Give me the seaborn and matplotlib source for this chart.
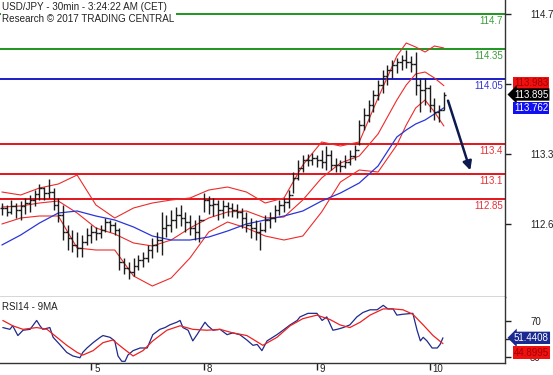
import numpy as np
import pandas as pd
import seaborn as sns
import matplotlib.pyplot as plt
from matplotlib.transforms import ScaledTranslation

# hourly OHLC bars (bar 0 = first bar on the left)
bar_high = [112.81, 112.79, 112.84, 112.81, 112.83, 112.86, 112.89, 112.94, 113.00, 112.97,
            113.05, 112.96, 112.86, 112.79, 112.59, 112.54, 112.52, 112.49, 112.56, 112.59,
            112.57, 112.59, 112.66, 112.64, 112.62, 112.56, 112.26, 112.22, 112.26, 112.29,
            112.32, 112.39, 112.46, 112.52, 112.72, 112.69, 112.74, 112.77, 112.79, 112.72,
            112.69, 112.64, 112.69, 112.91, 112.88, 112.86, 112.84, 112.84, 112.82, 112.81,
            112.80, 112.76, 112.72, 112.66, 112.64, 112.62, 112.69, 112.72, 112.79, 112.84,
            112.86, 112.94, 113.12, 113.24, 113.29, 113.30, 113.31, 113.29, 113.34, 113.38,
            113.34, 113.26, 113.24, 113.29, 113.34, 113.39, 113.64, 113.76, 113.84, 113.94,
            114.04, 114.14, 114.19, 114.24, 114.26, 114.29, 114.34, 114.28, 114.32, 114.06,
            114.06, 113.99, 113.86, 113.79, 113.92]
bar_low = [112.69, 112.68, 112.70, 112.66, 112.64, 112.70, 112.72, 112.78, 112.84, 112.84,
           112.86, 112.74, 112.62, 112.44, 112.34, 112.32, 112.27, 112.27, 112.39, 112.41,
           112.44, 112.46, 112.52, 112.52, 112.49, 112.14, 112.10, 112.05, 112.08, 112.14,
           112.17, 112.22, 112.26, 112.32, 112.29, 112.47, 112.52, 112.56, 112.58, 112.52,
           112.49, 112.44, 112.42, 112.72, 112.70, 112.68, 112.64, 112.66, 112.68, 112.67,
           112.66, 112.56, 112.52, 112.46, 112.44, 112.34, 112.52, 112.56, 112.62, 112.69,
           112.72, 112.76, 112.91, 113.04, 113.12, 113.18, 113.19, 113.17, 113.16, 113.14,
           113.14, 113.12, 113.12, 113.16, 113.19, 113.24, 113.39, 113.54, 113.62, 113.72,
           113.84, 113.91, 113.99, 114.06, 114.11, 114.14, 114.16, 114.12, 113.89, 113.72,
           113.79, 113.72, 113.64, 113.62, 113.74]
bar_close = [112.76, 112.72, 112.78, 112.74, 112.78, 112.81, 112.84, 112.90, 112.96, 112.91,
             112.92, 112.79, 112.69, 112.52, 112.46, 112.39, 112.36, 112.42, 112.49, 112.52,
             112.51, 112.54, 112.62, 112.59, 112.54, 112.22, 112.16, 112.12, 112.18, 112.24,
             112.26, 112.34, 112.39, 112.44, 112.56, 112.59, 112.64, 112.69, 112.66, 112.62,
             112.56, 112.52, 112.64, 112.84, 112.79, 112.80, 112.74, 112.78, 112.76, 112.74,
             112.72, 112.66, 112.59, 112.56, 112.52, 112.54, 112.64, 112.66, 112.74, 112.79,
             112.82, 112.89, 113.06, 113.16, 113.24, 113.24, 113.26, 113.24, 113.22, 113.29,
             113.19, 113.19, 113.18, 113.22, 113.28, 113.34, 113.59, 113.69, 113.79, 113.89,
             113.99, 114.08, 114.14, 114.19, 114.22, 114.24, 114.22, 114.20, 113.99, 113.94,
             113.96, 113.79, 113.72, 113.74, 113.895]

# Bollinger bands and long moving average, sampled along the bars
band_idx = [0, 4, 8, 12, 16, 20, 24, 28, 32, 36, 40, 44, 48, 52, 56, 60, 64, 68, 72, 76,
            80, 84, 86, 88, 90, 92, 94]
bb_upper = [112.92, 112.89, 112.96, 113.00, 113.09, 112.79, 112.66, 112.76, 112.81, 112.84,
            112.86, 112.94, 112.97, 112.92, 112.81, 112.86, 113.19, 113.42, 113.38, 113.42,
            113.86, 114.28, 114.41, 114.37, 114.32, 114.38, 114.36]
bb_mid = [112.77, 112.78, 112.81, 112.83, 112.71, 112.56, 112.50, 112.41, 112.38, 112.44,
          112.56, 112.66, 112.72, 112.73, 112.66, 112.67, 112.84, 113.06, 113.21, 113.28,
          113.50, 113.84, 113.99, 114.10, 114.12, 114.06, 113.983]
bb_lower = [112.60, 112.66, 112.68, 112.68, 112.36, 112.34, 112.34, 112.08, 111.98, 112.06,
            112.26, 112.52, 112.62, 112.56, 112.48, 112.44, 112.48, 112.72, 113.02, 113.14,
            113.12, 113.39, 113.59, 113.76, 113.84, 113.72, 113.58]
ma_long = [112.39, 112.49, 112.61, 112.71, 112.73, 112.68, 112.64, 112.57, 112.48, 112.44,
           112.44, 112.47, 112.53, 112.60, 112.64, 112.68, 112.73, 112.83, 112.91, 113.01,
           113.18, 113.47, 113.54, 113.60, 113.64, 113.70, 113.762]

# RSI14 and its 9-period average
rsi_pos = [0.2, 1.7, 2.3, 3.4, 4.5, 6.0, 7.4, 8.1, 8.7, 10.2, 10.9, 12.3, 13.8, 15.1, 16.6,
           17.2, 18.1, 19.4, 20.9, 21.5, 23.0, 24.0, 24.7, 25.5, 26.2, 26.8, 27.9, 29.4, 30.9,
           32.1, 33.6, 34.7, 35.7, 37.2, 37.9, 38.5, 39.6, 40.6, 41.5, 42.1, 43.2, 43.8, 44.9,
           46.4, 47.9, 49.1, 50.6, 52.1, 53.4, 54.3, 55.3, 56.4, 58.5, 59.8, 61.3, 62.8, 63.4,
           65.1, 67.0, 68.1, 69.1, 70.4, 71.3, 72.6, 74.0, 75.5, 76.8, 78.3, 79.8, 81.1, 82.1,
           83.2, 84.0, 85.3, 87.4, 88.3, 89.0, 89.6, 90.4, 91.5, 92.6, 93.2, 93.8]
rsi_val = [63, 61, 65, 54, 60, 61, 71, 65, 61, 63, 52, 44, 35, 31, 29,
           35, 40, 46, 52, 54, 52, 48, 31, 25, 25, 32, 37, 40, 40,
           55, 61, 63, 66, 69, 71, 63, 60, 48, 55, 60, 69, 65, 60,
           61, 55, 57, 55, 49, 43, 44, 37, 48, 55, 60, 66, 71, 75,
           79, 79, 71, 75, 60, 61, 63, 66, 75, 80, 83, 83, 88, 84,
           84, 77, 78, 79, 60, 48, 52, 48, 40, 40, 44, 51.4408]
rsi_ma_pos = [0.2, 2.3, 4.5, 7.4, 9.6, 11.7, 13.8, 16.0, 17.2, 19.4, 21.5, 23.6, 25.7, 27.9,
              30.0, 32.1, 35.1, 37.9, 40.6, 43.6, 46.4, 49.1, 52.1, 55.5, 58.5, 61.3, 64.0,
              67.0, 69.8, 71.9, 74.0, 76.2, 78.3, 81.1, 83.2, 85.3, 87.4, 89.6, 91.7, 93.8]
rsi_ma_val = [71, 65, 61, 63, 61, 52, 43, 35, 32, 37, 46, 49, 40, 31,
              37, 48, 60, 65, 61, 60, 61, 57, 54, 43, 52, 65, 73,
              77, 72, 66, 63, 69, 77, 84, 84, 83, 78, 66, 54, 44.8995]

day_start = [19, 43, 67, 91]
day_labels = ['5', '8', '9', '10']

levels = [114.7, 114.35, 114.05, 113.4, 113.1, 112.85]
level_text = ['114.7', '114.35', '114.05', '113.4', '113.1', '112.85']
level_kind = ['g', 'g', 'b', 'r', 'r', 'r']

sns.set_style('white')
plt.rcParams['font.family'] = ['Liberation Sans', 'DejaVu Sans']

line_col = {'g': '#1e961e', 'b': '#1c1cc8', 'r': '#e4141c'}
text_col = {'g': '#3c9c3c', 'b': '#3434d0', 'r': '#e43238'}

fig = plt.figure(figsize=(5.53, 3.75), dpi=100)
ax = fig.add_axes([0, 0.208, 0.9132, 0.792])
ax2 = fig.add_axes([0, 0.032, 0.9132, 0.176])

# price bars
idx = np.arange(len(bar_close))
opens = [bar_close[0]] + bar_close[:-1]
ax.vlines(idx, bar_low, bar_high, color='#1c1c1c', lw=1.0, zorder=3)
ax.hlines(opens, idx - 0.5, idx, color='#1c1c1c', lw=1.0, zorder=3)
ax.hlines(bar_close, idx, idx + 0.5, color='#1c1c1c', lw=1.0, zorder=3)

sns.lineplot(x=band_idx, y=bb_upper, ax=ax, color='#ee2a2a', lw=0.8, zorder=2)
sns.lineplot(x=band_idx, y=bb_mid, ax=ax, color='#ee2a2a', lw=0.8, zorder=2)
sns.lineplot(x=band_idx, y=bb_lower, ax=ax, color='#ee2a2a', lw=0.8, zorder=2)
sns.lineplot(x=band_idx, y=ma_long, ax=ax, color='#2a36d8', lw=0.9, zorder=2)

ytr = ax.get_yaxis_transform()
for lv, txt, k in zip(levels, level_text, level_kind):
    ax.axhline(lv, color=line_col[k], lw=1.4, zorder=1)
    ax.annotate(txt, xy=(1, lv), xycoords=ytr, xytext=(-2, -2), textcoords='offset pixels',
                ha='right', va='top', fontsize=7, color=text_col[k])

ax.annotate('', xy=(99.8, 113.11), xytext=(94.7, 113.86),
            arrowprops=dict(arrowstyle='-|>', color='#0c1a50', lw=1.8, mutation_scale=13))

ax.text(0.004, 0.993, 'USD/JPY - 30min - 3:24:22 AM (CET)\nResearch \u00a9 2017 TRADING CENTRAL',
        transform=ax.transAxes, ha='left', va='top', fontsize=7.1, color='#222222',
        linespacing=1.2, zorder=6, bbox=dict(fc='white', ec='none', pad=1))

ax.set_xlim(-0.4, 107)
ax.set_ylim(111.87, 114.84)
ax.set_xticks([])
ax.yaxis.tick_right()
ax.set_yticks([112.6, 113.3, 114.0, 114.7])
ax.set_yticklabels(['112.6', '113.3', '', '114.7'])
ax.tick_params(axis='y', direction='out', length=4, width=1, pad=14, labelsize=7,
               colors='#222222', right=True)
for s in ['left', 'top']:
    ax.spines[s].set_visible(False)
for s in ['right', 'bottom']:
    ax.spines[s].set_color('#333333')
    ax.spines[s].set_linewidth(1)
ax.set_xlabel('')
ax.set_ylabel('')


def side_box(a, val, txt, fc, tc, style='square', dy=0):
    a.annotate(txt, xy=(1, val), xycoords=a.get_yaxis_transform(), xytext=(9, dy),
               textcoords='offset pixels', ha='left', va='center', fontsize=7, color=tc,
               annotation_clip=False, zorder=8,
               bbox=dict(boxstyle=style + ',pad=0.12', fc=fc, ec='none'))


side_box(ax, 113.983, '113.983', '#f01010', '#a00000', dy=3)
side_box(ax, 113.895, '113.895', '#000000', 'white', style='larrow')
side_box(ax, 113.762, '113.762', '#1010f0', 'white')

# RSI panel
sns.lineplot(x=rsi_pos, y=rsi_val, ax=ax2, color='#1e2a8c', lw=0.9)
sns.lineplot(x=rsi_ma_pos, y=rsi_ma_val, ax=ax2, color='#ee2020', lw=0.9)
ax2.text(0.004, 0.93, 'RSI14 - 9MA', transform=ax2.transAxes, ha='left', va='top',
         fontsize=7, color='#222222')
ax2.set_xlim(-0.4, 107)
ax2.set_ylim(23.1, 97.4)
ax2.yaxis.tick_right()
ax2.set_yticks([30, 50, 70])
ax2.set_yticklabels(['30', '', '70'])
ax2.tick_params(axis='y', direction='out', length=4, width=1, pad=14, labelsize=7,
                colors='#222222', right=True)
ax2.set_xticks(day_start)
ax2.set_xticklabels(day_labels)
ax2.tick_params(axis='x', direction='out', length=5, width=1, pad=-4, labelsize=7,
                colors='#222222', bottom=True)
shift = ScaledTranslation(3 / 100, 0, fig.dpi_scale_trans)
for lab in ax2.get_xticklabels():
    lab.set_ha('left')
    lab.set_transform(lab.get_transform() + shift)
ax2.spines['left'].set_visible(False)
ax2.spines['top'].set_visible(False)
for s in ['right', 'bottom']:
    ax2.spines[s].set_color('#333333')
    ax2.spines[s].set_linewidth(1)
ax2.set_xlabel('')
ax2.set_ylabel('')

side_box(ax2, 51.4408, '51.4408', '#1a2a90', 'white', style='larrow')
side_box(ax2, 44.8995, '44.8995', '#f01010', '#a00000', dy=-9)

fig.savefig('out.png', dpi=100, facecolor='white')
